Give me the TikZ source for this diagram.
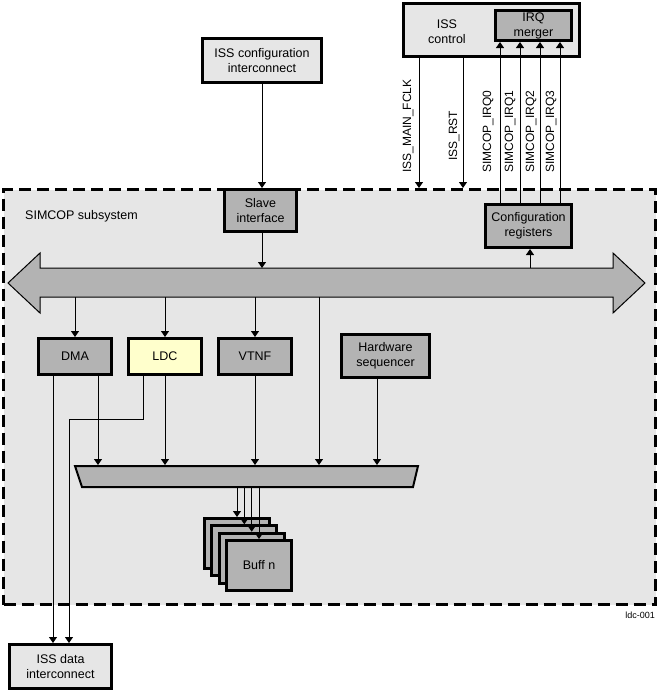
\documentclass[tikz,border=0pt]{standalone}
\usepackage{fontspec}
\setmainfont{Liberation Sans}
\usetikzlibrary{arrows.meta,calc}
\definecolor{lightfill}{HTML}{E6E6E6}
\definecolor{darkfill}{HTML}{B3B3B3}
\definecolor{ldcfill}{HTML}{FFFFCC}
\begin{document}
\begin{tikzpicture}[x=1pt,y=-1pt,
  txt/.style={font=\fontsize{12.5}{15}\selectfont},
  box/.style={draw,line width=3pt,inner sep=0pt,align=center,txt},
  lbox/.style={box,fill=lightfill},
  dbox/.style={box,fill=darkfill},
  arr/.style={line width=1pt,-{Triangle[width=8pt,length=6pt]}},
  ln/.style={line width=1pt},
  vlab/.style={rotate=90,anchor=west,inner sep=0pt,font=\fontsize{12}{14}\selectfont},
]
\useasboundingbox (0,0) rectangle (658,691);
% subsystem
\node[draw,line width=3pt,dash pattern=on 12pt off 6pt,fill=lightfill,
      minimum width=652pt,minimum height=415pt,inner sep=0pt] (sub) at (329.5,397) {};
\node[txt,anchor=west,inner sep=0pt] (subtxt) at (25,216) {SIMCOP subsystem};
\node[anchor=east,inner sep=0pt,font=\fontsize{9}{10}\selectfont] (ref) at (655,615) {ldc-001};
% top boxes
\node[lbox,minimum width=119pt,minimum height=44pt] (isscfg) at (262,60.5) {ISS configuration\\interconnect};
\node[lbox,minimum width=176pt,minimum height=53pt] (issctl) at (491.5,30) {};
\node[txt,align=center] (issctltxt) at (447,32) {ISS\\control};
\node[dbox,minimum width=76pt,minimum height=30pt] (irq) at (533.5,25.5) {IRQ\\merger};
% inner boxes
\node[dbox,minimum width=72pt,minimum height=42pt] (slave) at (260.5,210.5) {Slave\\interface};
\node[dbox,minimum width=86pt,minimum height=43pt] (cfgreg) at (528.5,226) {Configuration\\registers};
\node[dbox,minimum width=73pt,minimum height=36pt] (dma) at (75,356.5) {DMA};
\node[box,fill=ldcfill,minimum width=73pt,minimum height=36pt] (ldc) at (165,356.5) {LDC};
\node[dbox,minimum width=73pt,minimum height=36pt] (vtnf) at (255,356.5) {VTNF};
\node[dbox,minimum width=88pt,minimum height=43pt] (hws) at (385.5,356) {Hardware\\sequencer};
\node[lbox,minimum width=102pt,minimum height=44pt] (issdata) at (60.5,666.5) {ISS data\\interconnect};
% bus
\draw[ln,fill=darkfill] (8,283) -- (40,253) -- (40,268) -- (613,268) -- (613,253) -- (645,283)
  -- (613,313) -- (613,297) -- (40,297) -- (40,313) -- cycle;
\coordinate (bustop) at (0,268);
\coordinate (busbot) at (0,297);
% mux
\draw[line width=2pt,fill=darkfill] (75,466) -- (418,466) -- (413,487) -- (82,487) -- cycle;
\coordinate (muxtop) at (0,465);
\coordinate (muxbot) at (0,488);
% buffers
\node[dbox,minimum width=65pt,minimum height=50pt] (b1) at (237,543.5) {};
\node[dbox,minimum width=65pt,minimum height=50pt] (b2) at (244.3,550.8) {};
\node[dbox,minimum width=65pt,minimum height=50pt] (b3) at (251.7,558.2) {};
\node[dbox,minimum width=65pt,minimum height=50pt] (b4) at (259,565.5) {Buff n};
% connectors top
\draw[arr] (isscfg.south) -- (isscfg.south |- slave.north);
\foreach \x/\n in {419/fclk,463/rst}
  \draw[arr] (issctl.south -| \x,0) -- (sub.north -| \x,0);
\foreach \x in {500,520,540,560}
  \draw[arr] (cfgreg.north -| \x,0) -- (irq.south -| \x,0);
\node[vlab] (lfclk) at (408,173) {ISS\_MAIN\_FCLK};
\node[vlab] (lrst) at (454,161) {ISS\_RST};
\node[vlab] (lirq0) at (488,173) {SIMCOP\_IRQ0};
\node[vlab] (lirq1) at (510,173) {SIMCOP\_IRQ1};
\node[vlab] (lirq2) at (531,173) {SIMCOP\_IRQ2};
\node[vlab] (lirq3) at (551,173) {SIMCOP\_IRQ3};
% slave / config
\draw[arr] (slave.south -| 262,0) -- (bustop -| 262,0);
\draw[arr] (bustop -| 530,0) -- (cfgreg.south -| 530,0);
% bus down
\draw[arr] (busbot -| dma.north) -- (dma.north);
\draw[arr] (busbot -| ldc.north) -- (ldc.north);
\draw[arr] (busbot -| vtnf.north) -- (vtnf.north);
\draw[arr] (busbot -| 319,0) -- (muxtop -| 319,0);
% to mux
\draw[arr] (dma.south -| 98,0) -- (muxtop -| 98,0);
\draw[arr] (ldc.south) -- (muxtop -| ldc.south);
\draw[arr] (vtnf.south) -- (muxtop -| vtnf.south);
\draw[arr] (hws.south -| 377,0) -- (muxtop -| 377,0);
% to data interconnect
\draw[arr] (dma.south -| 53,0) -- (issdata.north -| 53,0);
\draw[arr] (ldc.south -| 143,0) -- (143,419) -- (69,419) -- (issdata.north -| 69,0);
% mux to buffers
\draw[arr] (muxbot -| b1.north) -- (b1.north);
\draw[arr] (muxbot -| b2.north) -- (b2.north);
\draw[arr] (muxbot -| b3.north) -- (b3.north);
\draw[arr] (muxbot -| b4.north) -- (b4.north);
\end{tikzpicture}
\end{document}
